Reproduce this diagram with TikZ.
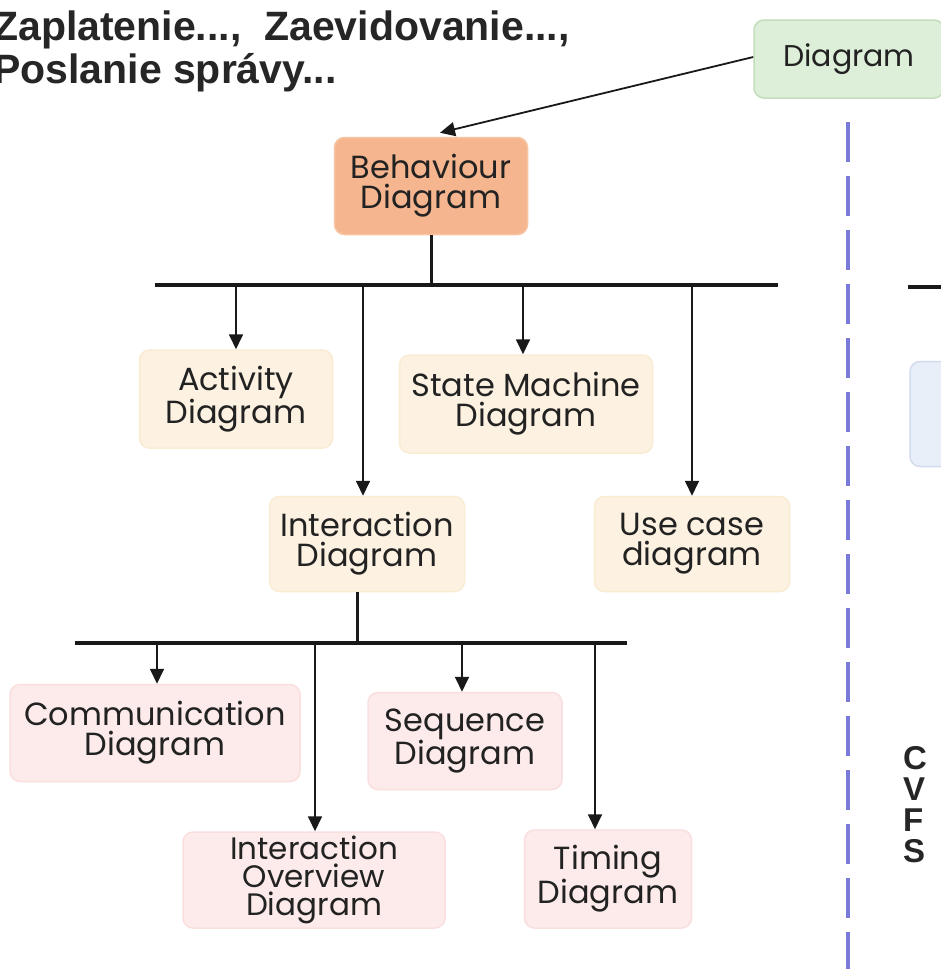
\documentclass[tikz,border=0pt]{standalone}
\usepackage{fontspec}
\setmainfont{Poppins}
\newfontfamily\lib{Liberation Sans}
\usetikzlibrary{arrows.meta}
\definecolor{gfill}{HTML}{DDEFD9}
\definecolor{gdraw}{HTML}{C3DEBC}
\definecolor{ofill}{HTML}{F5B58E}
\definecolor{odraw}{HTML}{F7C4A2}
\definecolor{yfill}{HTML}{FDF2E1}
\definecolor{ydraw}{HTML}{FAEBD3}
\definecolor{pfill}{HTML}{FCEBEA}
\definecolor{pdraw}{HTML}{FADFDF}
\definecolor{bfill}{HTML}{E9EFF9}
\definecolor{bdraw}{HTML}{D3DCEE}
\definecolor{dashblue}{HTML}{7A7AD9}
\definecolor{txt}{HTML}{222222}
\tikzset{
  box/.style={rounded corners=10pt, line width=1.5pt, align=center, inner sep=0pt,
    text=txt, font=\fontsize{32}{30}\selectfont},
  gbox/.style={box, fill=gfill, draw=gdraw},
  obox/.style={box, fill=ofill, draw=odraw},
  ybox/.style={box, fill=yfill, draw=ydraw},
  pbox/.style={box, fill=pfill, draw=pdraw},
  bbox/.style={box, fill=bfill, draw=bdraw},
  bus/.style={line width=3.5pt, black!90},
  stem/.style={line width=3pt, black!90},
  arr/.style={line width=1.8pt, black!90, -{Triangle[length=15pt,width=14pt]}},
  note/.style={font=\lib\bfseries\fontsize{41}{43}\selectfont, text=black!85, align=left, inner sep=0pt},
}
\begin{document}
\begin{tikzpicture}[x=1pt,y=-1pt]
\useasboundingbox (0,0) rectangle (941,969);
\fill[white] (0,0) rectangle (941,969);

% notes
\node[note, anchor=north west] (n1) at (-7,11) {Zaplatenie...,\ \ Zaevidovanie...,\\Poslanie správy...};
\node[note, anchor=north west, font=\lib\bfseries\fontsize{33}{31}\selectfont] (n2) at (903,746) {C\\V\\F\\S};

% dashed separator
\coordinate (dTop) at (848,122);
\coordinate (dBot) at (848,975);
\draw[dashblue, line width=4pt, dash pattern=on 40pt off 14pt] (dTop) -- (dBot);

% right-side fragments
\coordinate (rl1) at (908,287);
\coordinate (rl2) at (945,287);
\draw[bus] (rl1) -- (rl2);
\node[bbox, minimum width=60pt, minimum height=105pt] (rb) at (940,414) {};

% nodes
\node[gbox, minimum width=190pt, minimum height=78pt, font=\fontsize{30}{30}\selectfont] (diag) at (849,59) {Diagram};
\node[obox, minimum width=193pt, minimum height=97pt] (beh) at (431,186) {Behaviour\\Diagram};
\node[ybox, minimum width=193pt, minimum height=98pt] (act) at (236,399) {Activity\\Diagram};
\node[ybox, minimum width=253pt, minimum height=98pt] (sm) at (526,404) {State Machine\\Diagram};
\node[ybox, minimum width=195pt, minimum height=95pt] (inter) at (367,544) {Interaction\\Diagram};
\node[ybox, minimum width=195pt, minimum height=95pt] (uc) at (692,544) {Use case\\diagram};
\node[pbox, minimum width=290pt, minimum height=97pt] (comm) at (155,733) {Communication\\Diagram};
\node[pbox, minimum width=194pt, minimum height=97pt] (seq) at (465,741) {Sequence\\Diagram};
\node[pbox, minimum width=262pt, minimum height=96pt, font=\fontsize{31}{28}\selectfont] (iov) at (314,880) {Interaction\\Overview\\Diagram};
\node[pbox, minimum width=167pt, minimum height=98pt] (tim) at (608,879) {Timing\\Diagram};

% connectors
\draw[arr] ([yshift=2pt]diag.west) -- ([xshift=9pt,yshift=4pt]beh.north);

\coordinate (b1L) at (155,285);
\coordinate (b1R) at (778,285);
\draw[bus] (b1L) -- (b1R);
\draw[stem] (beh.south) -- (beh.south |- b1L);
\draw[arr] (act.north |- b1L) -- (act.north);
\draw[arr] ([xshift=-4pt]inter.north |- b1L) -- ([xshift=-4pt]inter.north);
\draw[arr] ([xshift=-3pt]sm.north |- b1L) -- ([xshift=-3pt]sm.north);
\draw[arr] (uc.north |- b1L) -- (uc.north);

\coordinate (b2L) at (75,643);
\coordinate (b2R) at (627,643);
\draw[bus] (b2L) -- (b2R);
\draw[stem] ([xshift=-10pt]inter.south) -- ([xshift=-10pt]inter.south |- b2L);
\draw[arr] ([xshift=2pt]comm.north |- b2L) -- ([xshift=2pt]comm.north);
\draw[arr] ([xshift=1pt]iov.north |- b2L) -- ([xshift=1pt]iov.north);
\draw[arr] ([xshift=-3pt]seq.north |- b2L) -- ([xshift=-3pt]seq.north);
\draw[arr] ([xshift=-13pt]tim.north |- b2L) -- ([xshift=-13pt]tim.north);
\end{tikzpicture}
\end{document}
